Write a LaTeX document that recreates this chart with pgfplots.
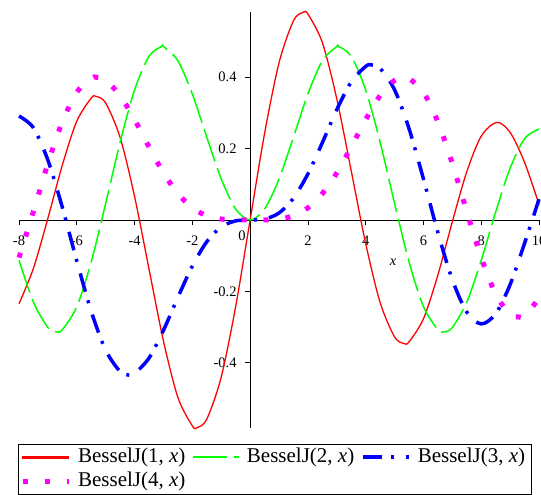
\documentclass[border=0pt]{standalone}
\usepackage{fontspec}
\setmainfont{Liberation Serif}
\usepackage{pgfplots}
\pgfplotsset{compat=1.18}
\definecolor{mred}{RGB}{255,0,0}
\definecolor{mgreen}{RGB}{0,255,0}
\definecolor{mblue}{RGB}{0,0,255}
\definecolor{mmag}{RGB}{255,0,255}
\begin{document}
\begin{tikzpicture}
\begin{axis}[
  x=28.889pt, y=357pt,
  xmin=-8, xmax=10, ymin=-0.5826, ymax=0.5826,
  axis lines=middle,
  axis line style={-, line width=0.9pt, black},
  xtick={-8,-6,-4,-2,2,4,6,8,10},
  extra x ticks={0},
  extra x tick style={major tick length=0pt, xticklabel style={xshift=-8pt}},
  ytick={-0.4,-0.2,0.2,0.4},
  minor tick num=1,
  tick align=outside,
  major tick length=5pt, minor tick length=3.5pt,
  tick style={black, line width=0.8pt},
  ticklabel style={font=\fontsize{14.5}{16}\selectfont},
  xticklabel style={yshift=-7pt},
  yticklabel style={xshift=-5pt},
  /pgf/number format/assume math mode=true,
  clip=false,
  legend columns=3,
  legend style={at={(-0.002,-0.0385)}, anchor=north west, draw,
    inner xsep=2pt, inner ysep=1pt, font=\fontsize{21}{23}\selectfont,
    column sep=3pt,
    nodes={inner xsep=4pt, inner ysep=2pt, text height=15pt, text depth=5pt}},
  legend image code/.code={\draw[#1] (0pt,0pt) -- (46pt,0pt);},
]
\addlegendimage{legend image code/.code={\fill[mred] (0pt,-0.65pt) rectangle (46pt,0.65pt);}}
\addlegendentry{BesselJ(1, \textit{x})}
\addlegendimage{draw=mgreen, line width=1.5pt, dash pattern=on 34pt off 7pt}
\addlegendentry{BesselJ(2, \textit{x})}
\addlegendimage{draw=mblue, line width=3.5pt, dash pattern=on 19pt off 9pt on 3pt off 12pt}
\addlegendentry{BesselJ(3, \textit{x})}
\addlegendimage{draw=mmag, line width=5pt, dash pattern=on 5pt off 17pt}
\addlegendentry{BesselJ(4, \textit{x})}
\addplot[draw=mred, line width=1.3pt, smooth, forget plot] coordinates {
(-8,-0.23464) (-7.5,-0.13525) (-7,0.00468) (-6.5,0.15384) (-6,0.27668) (-5.5,0.34144) (-5.3314,0.34613)
(-5,0.32758) (-4.5,0.23106) (-4,0.06604) (-3.5,-0.13738) (-3,-0.33906) (-2.5,-0.49709) (-2,-0.57672)
(-1.8412,-0.58187) (-1.5,-0.55794) (-1,-0.44005) (-0.5,-0.24227) (0,0) (0.5,0.24227) (1,0.44005)
(1.5,0.55794) (1.8412,0.58187) (2,0.57672) (2.5,0.49709) (3,0.33906) (3.5,0.13738) (4,-0.06604)
(4.5,-0.23106) (5,-0.32758) (5.3314,-0.34613) (5.5,-0.34144) (6,-0.27668) (6.5,-0.15384) (7,-0.00468)
(7.5,0.13525) (8,0.23464) (8.5363,0.27330) (9,0.24531) (9.5,0.16126) (10,0.04347)};
\addplot[draw=mgreen, line width=1.5pt, smooth, dash pattern=on 34pt off 7pt, forget plot] coordinates {
(-8,-0.11299) (-7.5,-0.23027) (-7,-0.30142) (-6.7061,-0.31353) (-6.5,-0.30743) (-6,-0.24288)
(-5.5,-0.11732) (-5,0.04657) (-4.5,0.21785) (-4,0.36413) (-3.5,0.45863) (-3.0542,0.48650) (-3,0.48609)
(-2.5,0.44605) (-2,0.35283) (-1.5,0.23209) (-1,0.11490) (-0.5,0.03060) (0,0) (0.5,0.03060) (1,0.11490)
(1.5,0.23209) (2,0.35283) (2.5,0.44605) (3,0.48609) (3.0542,0.48650) (3.5,0.45863) (4,0.36413)
(4.5,0.21785) (5,0.04657) (5.5,-0.11732) (6,-0.24288) (6.5,-0.30743) (6.7061,-0.31353) (7,-0.30142)
(7.5,-0.23027) (8,-0.11299) (8.5,0.02232) (9,0.14484) (9.5,0.22788) (10,0.25463)};
\addplot[draw=mblue, line width=3.5pt, smooth, dash pattern=on 19pt off 9pt on 3pt off 12pt, forget plot] coordinates {
(-8,0.29114) (-7.5,0.25806) (-7,0.16756) (-6.5,0.03535) (-6,-0.11476) (-5.5,-0.25612) (-5,-0.36484)
(-4.5,-0.42470) (-4.2012,-0.43439) (-4,-0.43017) (-3.5,-0.38677) (-3,-0.30906) (-2.5,-0.21659)
(-2,-0.12894) (-1.5,-0.06096) (-1,-0.01956) (-0.5,-0.00256) (0,0) (0.5,0.00256) (1,0.01956)
(1.5,0.06096) (2,0.12894) (2.5,0.21659) (3,0.30906) (3.5,0.38677) (4,0.43017) (4.2012,0.43439)
(4.5,0.42470) (5,0.36484) (5.5,0.25612) (6,0.11476) (6.5,-0.03535) (7,-0.16756) (7.5,-0.25806)
(8,-0.29114) (8.5,-0.26262) (9,-0.18094) (9.5,-0.06531) (10,0.05838)};
\addplot[draw=mmag, line width=5pt, smooth, dash pattern=on 5pt off 17pt, forget plot] coordinates {
(-8,-0.10537) (-7.5,0.02382) (-7,0.15780) (-6.5,0.27480) (-6,0.35764) (-5.5,0.39672) (-5.3176,0.39965)
(-5,0.39124) (-4.5,0.34842) (-4,0.28113) (-3.5,0.20440) (-3,0.13203) (-2.5,0.07378) (-2,0.03400)
(-1.5,0.01177) (-1,0.00248) (-0.5,0.00016) (0,0) (0.5,0.00016) (1,0.00248) (1.5,0.01177) (2,0.03400)
(2.5,0.07378) (3,0.13203) (3.5,0.20440) (4,0.28113) (4.5,0.34842) (5,0.39124) (5.3176,0.39965)
(5.5,0.39672) (6,0.35764) (6.5,0.27480) (7,0.15780) (7.5,0.02382) (8,-0.10537) (8.5,-0.20770)
(9,-0.26547) (9.2824,-0.27146) (9.5,-0.26913) (10,-0.21960)};
\node[font=\fontsize{14.5}{16}\selectfont] at (axis cs:4.95,-0.118) {\textit{x}};
\coordinate (bbbl) at (axis cs:-8.658,-0.7703);
\coordinate (bbtr) at (axis cs:10.069,0.6162);
\end{axis}
\pgfresetboundingbox
\path (bbbl) rectangle (bbtr);
\end{tikzpicture}
\end{document}
